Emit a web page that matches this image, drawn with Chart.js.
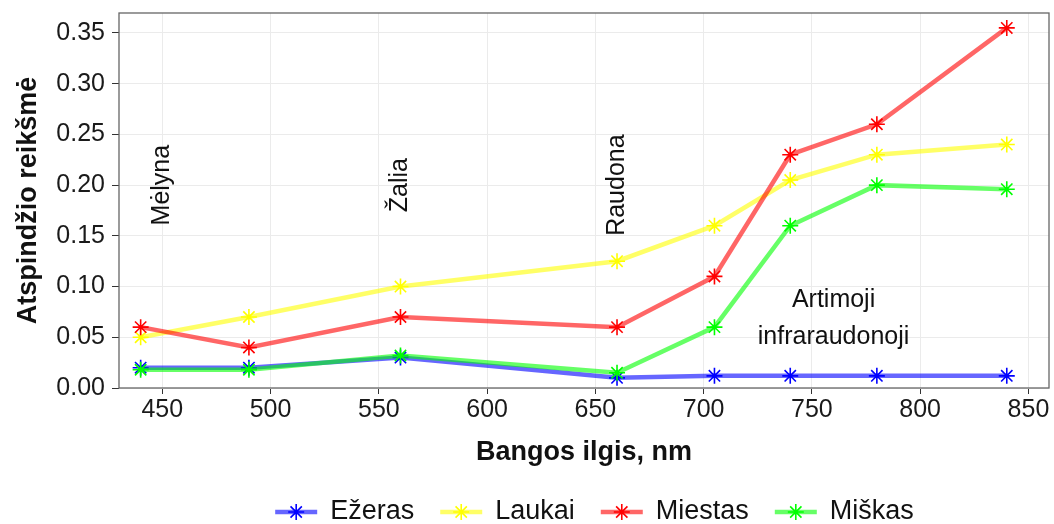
<!DOCTYPE html>
<html>
<head>
<meta charset="utf-8">
<script src="https://cdn.jsdelivr.net/npm/chart.js@4.4.1/dist/chart.umd.min.js"></script>
<style>
  html, body { margin: 0; padding: 0; background: #fff; }
</style>
</head>
<body>
<canvas id="chart" width="1054" height="524"></canvas>
<script>
// wavelengths, nm
const wavelengths = [440, 490, 560, 660, 705, 740, 780, 840];
const seriesNames = ["Ežeras", "Laukai", "Miestas", "Miškas"];
const ezeras  = [0.020, 0.020, 0.030, 0.010, 0.012, 0.012, 0.012, 0.012];
const laukai  = [0.050, 0.070, 0.100, 0.125, 0.160, 0.205, 0.230, 0.240];
const miestas = [0.060, 0.040, 0.070, 0.060, 0.110, 0.230, 0.260, 0.355];
const miskas  = [0.018, 0.018, 0.032, 0.015, 0.060, 0.160, 0.200, 0.196];
const xTicks = [450, 500, 550, 600, 650, 700, 750, 800, 850];
const yTicks = [0.00, 0.05, 0.10, 0.15, 0.20, 0.25, 0.30, 0.35];
// band labels on the plot
const bandLabels = ["Mėlyna", "Žalia", "Raudona", ["Artimoji", "infraraudonoji"]];
const bandX = [450, 560, 660, 760];
const bandY = [0.2, 0.2, 0.2, 0.068];
const bandRotated = [true, true, true, false];

const lineColors = ["rgba(0,0,255,0.6)", "rgba(255,255,0,0.6)", "rgba(255,0,0,0.6)", "rgba(0,255,0,0.6)"];
const pointColors = ["#0000ff", "#ffff00", "#ff0000", "#00ff00"];
const FONT = "'Liberation Sans', Arial, sans-serif";

var allValues = [ezeras, laukai, miestas, miskas];

var datasets = [];
for (let i = 0; i < seriesNames.length; i++) {
    datasets.push({
        label: seriesNames[i],
        data: wavelengths.map((w, j) => ({ x: w, y: allValues[i][j] })),
        borderColor: lineColors[i],
        backgroundColor: pointColors[i],
        borderWidth: 4.5,
        pointStyle: "star",
        pointRadius: 8,
        pointBorderWidth: 1.6,
        pointBorderColor: pointColors[i],
        pointBackgroundColor: pointColors[i],
        order: seriesNames.length - 1 - i,
        tension: 0
    });
}

// panel border + band labels
const panelExtras = {
    id: "panelExtras",
    afterDatasetsDraw(chart) {
        const ctx = chart.ctx;
        const xs = chart.scales.x, ys = chart.scales.y;
        ctx.save();
        ctx.fillStyle = "#111";
        ctx.font = "25px " + FONT;
        ctx.textAlign = "center";
        ctx.textBaseline = "middle";
        for (let i = 0; i < bandLabels.length; i++) {
            const px = xs.getPixelForValue(bandX[i]);
            const py = ys.getPixelForValue(bandY[i]);
            if (bandRotated[i]) {
                ctx.save();
                ctx.translate(px, py);
                ctx.rotate(-Math.PI / 2);
                ctx.fillText(bandLabels[i], 0, 0);
                ctx.restore();
            } else {
                const lines = bandLabels[i];
                const lh = 37;
                lines.forEach((t, k) => {
                    ctx.fillText(t, px, py + (k - (lines.length - 1) / 2) * lh);
                });
            }
        }
        const a = chart.chartArea;
        ctx.strokeStyle = "#666";
        ctx.lineWidth = 1.3;
        ctx.strokeRect(a.left, a.top, a.right - a.left, a.bottom - a.top);
        ctx.restore();
    }
};

// ggplot-like legend at the bottom
const bottomLegend = {
    id: "bottomLegend",
    afterDraw(chart) {
        const ctx = chart.ctx;
        ctx.save();
        ctx.font = "27px " + FONT;
        const keyW = 42, keyGap = 13, itemGap = 26;
        var widths = seriesNames.map(n => ctx.measureText(n).width);
        var total = widths.reduce((s, w) => s + w + keyW + keyGap, 0) + itemGap * (seriesNames.length - 1);
        var x = 594.5 - total / 2;
        const y = 512;
        for (let i = 0; i < seriesNames.length; i++) {
            ctx.strokeStyle = lineColors[i];
            ctx.lineWidth = 4.5;
            ctx.beginPath();
            ctx.moveTo(x, y);
            ctx.lineTo(x + keyW, y);
            ctx.stroke();
            ctx.strokeStyle = pointColors[i];
            ctx.fillStyle = pointColors[i];
            ctx.lineWidth = 1.6;
            Chart.helpers.drawPoint(ctx, { pointStyle: "star", radius: 8, rotation: 0, borderWidth: 1.6 }, x + keyW / 2, y);
            ctx.fillStyle = "#111";
            ctx.textAlign = "left";
            ctx.textBaseline = "middle";
            ctx.fillText(seriesNames[i], x + keyW + keyGap, y);
            x += keyW + keyGap + widths[i] + itemGap;
        }
        ctx.restore();
    }
};

var ctx = document.getElementById("chart").getContext("2d");
const config = {
    type: "line",
    data: { datasets: datasets },
    options: {
        responsive: false,
        animation: false,
        layout: {
            autoPadding: false,
            padding: { left: 0, right: 5, top: 13, bottom: 0 }
        },
        plugins: {
            legend: { display: false },
            tooltip: { enabled: false }
        },
        scales: {
            x: {
                type: "linear",
                min: 430,
                max: 859.5,
                afterBuildTicks: (scale) => { scale.ticks = xTicks.map(v => ({ value: v })); },
                afterFit: (scale) => {
                    scale.height = 136;
                    scale.paddingLeft = 0;
                    scale.paddingRight = 0;
                },
                border: { display: false },
                grid: { color: "#ebebeb", lineWidth: 1, tickLength: 6, tickColor: "#333", tickWidth: 1 },
                ticks: {
                    color: "#1a1a1a",
                    font: { family: FONT, size: 25 },
                    padding: 1,
                    maxRotation: 0,
                    autoSkip: false
                },
                title: {
                    display: true,
                    text: "Bangos ilgis, nm",
                    color: "#111",
                    font: { family: FONT, size: 27, weight: "bold" },
                    padding: { top: 0, bottom: 55 }
                }
            },
            y: {
                type: "linear",
                min: 0,
                max: 0.3697,
                afterBuildTicks: (scale) => { scale.ticks = yTicks.map(v => ({ value: v })); },
                afterFit: (scale) => {
                    scale.width = 119;
                    scale.paddingTop = 0;
                    scale.paddingBottom = 0;
                },
                border: { display: false },
                grid: { color: "#ebebeb", lineWidth: 1, tickLength: 7, tickColor: "#333", tickWidth: 1 },
                ticks: {
                    color: "#1a1a1a",
                    font: { family: FONT, size: 25 },
                    padding: 7,
                    callback: (v) => Number(v).toFixed(2)
                },
                title: {
                    display: true,
                    text: "Atspindžio reikšmė",
                    color: "#111",
                    font: { family: FONT, size: 27, weight: "bold" },
                    padding: { top: 12, bottom: 0 }
                }
            }
        }
    },
    plugins: [panelExtras, bottomLegend]
};

var myChart = new Chart(ctx, config);
</script>
</body>
</html>
